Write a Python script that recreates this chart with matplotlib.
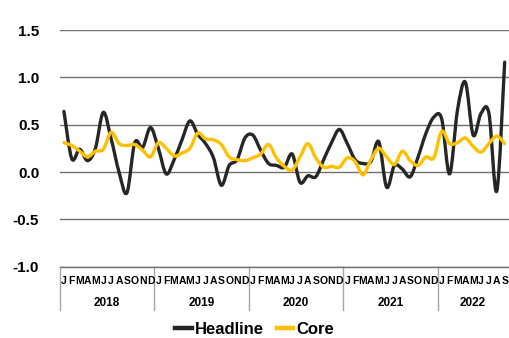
import numpy as np
import matplotlib
matplotlib.use("Agg")
import matplotlib.pyplot as plt
from matplotlib.path import Path
from matplotlib.patches import PathPatch
from matplotlib.lines import Line2D
import matplotlib.transforms as mtransforms

years = ["2018", "2019", "2020", "2021", "2022"]
month_letters = list("JFMAMJJASOND")

headline = [0.64, 0.14, 0.24, 0.12, 0.25, 0.63, 0.35, 0.00, -0.22, 0.31, 0.26, 0.47,
            0.25, -0.02, 0.13, 0.34, 0.54, 0.40, 0.30, 0.15, -0.14, 0.07, 0.13, 0.36,
            0.39, 0.23, 0.09, 0.07, 0.05, 0.19, -0.11, -0.04, -0.05, 0.13, 0.31, 0.45,
            0.30, 0.13, 0.09, 0.11, 0.32, -0.16, 0.07, 0.03, -0.05, 0.16, 0.41, 0.58,
            0.56, -0.02, 0.65, 0.95, 0.39, 0.62, 0.62, -0.20, 1.16]
core = [0.31, 0.28, 0.22, 0.16, 0.22, 0.24, 0.42, 0.30, 0.28, 0.29, 0.23, 0.16,
        0.31, 0.25, 0.17, 0.20, 0.25, 0.41, 0.35, 0.34, 0.29, 0.16, 0.13, 0.12,
        0.15, 0.19, 0.29, 0.15, 0.06, 0.02, 0.16, 0.30, 0.15, 0.05, 0.06, 0.05,
        0.15, 0.11, -0.03, 0.13, 0.25, 0.16, 0.08, 0.22, 0.12, 0.07, 0.16, 0.15,
        0.43, 0.30, 0.31, 0.36, 0.27, 0.21, 0.30, 0.38, 0.30]

series_names = ["Headline", "Core"]
colors = ["#262626", "#FFC000"]

def smooth_path(xs, ys):
    pts = np.column_stack([xs, ys]).astype(float)
    n = len(pts)
    verts = [pts[0]]
    codes = [Path.MOVETO]
    for i in range(n - 1):
        p0 = pts[i - 1] if i > 0 else pts[i]
        p1 = pts[i]
        p2 = pts[i + 1]
        p3 = pts[i + 2] if i + 2 < n else pts[i + 1]
        c1 = p1 + (p2 - p0) / 6.0
        c2 = p2 - (p3 - p1) / 6.0
        verts += [c1, c2, p2]
        codes += [Path.CURVE4] * 3
    return Path(verts, codes)

plt.rcParams['font.family'] = ['Liberation Sans', 'DejaVu Sans']

fig = plt.figure(figsize=(5.09, 3.38), dpi=100)
ax = fig.add_axes([60 / 509, (338 - 266.7) / 338, 448.6 / 509, (266.7 - 30) / 338])

x = np.arange(len(headline))
for vals, c, name in zip([headline, core], colors, series_names):
    p = smooth_path(x, vals)
    ax.add_patch(PathPatch(p, facecolor="none", edgecolor=c, lw=2.4,
                           capstyle="round", joinstyle="round", zorder=3))

ax.set_xlim(-0.5, len(headline) - 0.5)
ax.set_ylim(-1.0, 1.5)
ax.set_yticks(np.arange(-1.0, 1.51, 0.5))
ax.set_yticklabels([f"{v:.1f}" for v in np.arange(-1.0, 1.51, 0.5)],
                   fontsize=11, fontweight="bold")
ax.tick_params(axis="y", length=0, pad=15)
ax.set_xticks([])
for s in ["top", "right", "left"]:
    ax.spines[s].set_visible(False)
ax.spines["bottom"].set_color("#707070")
ax.spines["bottom"].set_linewidth(1)
ax.yaxis.grid(True, color="#707070", lw=1)
ax.set_axisbelow(True)

trans = mtransforms.blended_transform_factory(ax.transData, ax.transAxes)
for i in range(len(headline)):
    ax.text(i, -0.059, month_letters[i % 12], transform=trans, ha="center", va="center",
            fontsize=7.5, fontweight="bold",
            family=['Liberation Sans Narrow', 'Liberation Sans'],
            color="#000000", clip_on=False)
sep_bottom = -(310 - 266.7) / 236.7
for k, yr in enumerate(years):
    start = 12 * k
    end = min(12 * (k + 1), len(headline))
    ax.text((start + end - 1) / 2, -(302.7 - 266.7) / 236.7, yr, transform=trans,
            ha="center", va="center", fontsize=8.5, fontweight="bold", clip_on=False)
    ax.plot([start - 0.5, start - 0.5], [0, sep_bottom], transform=trans,
            color="#A6A6A6", lw=1, clip_on=False)

handles = [Line2D([0], [0], color=c, lw=3.2) for c in colors]
fig.legend(handles, series_names, loc="center", bbox_to_anchor=(0.5, 1 - 329 / 338),
           ncol=2, frameon=False, handlelength=1.0, handletextpad=0.15,
           columnspacing=0.8, prop={"weight": "bold", "size": 12})

fig.savefig("out.png", dpi=100)
